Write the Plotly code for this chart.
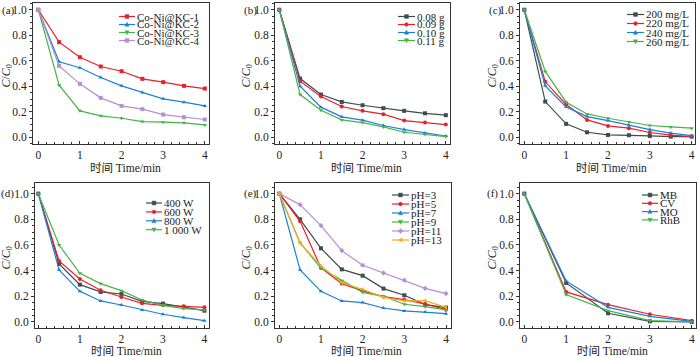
import plotly.graph_objects as go

W, H = 700, 357

# ---------------- data ----------------
t_half = [0, 0.5, 1, 1.5, 2, 2.5, 3, 3.5, 4]
t_full = [0, 1, 2, 3, 4]

a_names = ["Co-Ni@KC-1", "Co-Ni@KC-2", "Co-Ni@KC-3", "Co-Ni@KC-4"]
a_kc1 = [1.0, 0.746, 0.628, 0.555, 0.518, 0.458, 0.432, 0.403, 0.382]
a_kc2 = [1.0, 0.592, 0.545, 0.469, 0.403, 0.351, 0.301, 0.275, 0.246]
a_kc3 = [1.0, 0.408, 0.207, 0.168, 0.149, 0.123, 0.118, 0.113, 0.097]
a_kc4 = [1.0, 0.560, 0.419, 0.309, 0.246, 0.220, 0.178, 0.157, 0.139]

b_names = ["0.08 g", "0.09 g", "0.10 g", "0.11 g"]
b_008 = [1.0, 0.460, 0.335, 0.277, 0.251, 0.228, 0.207, 0.188, 0.173]
b_009 = [1.0, 0.440, 0.319, 0.241, 0.207, 0.181, 0.131, 0.115, 0.099]
b_010 = [1.0, 0.400, 0.236, 0.160, 0.134, 0.092, 0.060, 0.034, 0.010]
b_011 = [1.0, 0.335, 0.212, 0.136, 0.115, 0.081, 0.039, 0.024, 0.005]

c_names = ["200 mg/L", "220 mg/L", "240 mg/L", "260 mg/L"]
c_200 = [1.0, 0.280, 0.105, 0.039, 0.018, 0.016, 0.010, 0.005, 0.005]
c_220 = [1.0, 0.435, 0.257, 0.136, 0.089, 0.071, 0.037, 0.016, 0.005]
c_240 = [1.0, 0.403, 0.238, 0.162, 0.131, 0.094, 0.060, 0.033, 0.012]
c_260 = [1.0, 0.516, 0.275, 0.183, 0.149, 0.120, 0.092, 0.081, 0.071]

d_names = ["400 W", "600 W", "800 W", "1 000 W"]
d_400 = [1.0, 0.452, 0.291, 0.234, 0.218, 0.161, 0.143, 0.117, 0.088]
d_600 = [1.0, 0.475, 0.335, 0.247, 0.195, 0.145, 0.130, 0.122, 0.114]
d_800 = [1.0, 0.405, 0.239, 0.164, 0.132, 0.094, 0.060, 0.034, 0.010]
d_1000 = [1.0, 0.600, 0.379, 0.299, 0.244, 0.171, 0.130, 0.104, 0.094]

e_names = ["pH=3", "pH=5", "pH=7", "pH=9", "pH=11", "pH=13"]
e_ph3 = [1.0, 0.800, 0.574, 0.410, 0.361, 0.260, 0.208, 0.135, 0.112]
e_ph5 = [1.0, 0.784, 0.421, 0.299, 0.242, 0.197, 0.174, 0.140, 0.096]
e_ph7 = [1.0, 0.405, 0.239, 0.164, 0.151, 0.109, 0.086, 0.078, 0.065]
e_ph9 = [1.0, 0.618, 0.418, 0.322, 0.231, 0.200, 0.138, 0.119, 0.094]
e_ph11 = [1.0, 0.914, 0.751, 0.556, 0.442, 0.382, 0.325, 0.262, 0.221]
e_ph13 = [1.0, 0.613, 0.439, 0.306, 0.255, 0.192, 0.164, 0.166, 0.114]

f_names = ["MB", "CV", "MO", "RhB"]
f_mb = [1.0, 0.304, 0.068, 0.005, 0.0]
f_cv = [1.0, 0.234, 0.135, 0.060, 0.010]
f_mo = [1.0, 0.320, 0.114, 0.044, 0.005]
f_rhb = [1.0, 0.213, 0.088, 0.010, 0.0]

x_title = "时间 Time/min"
y_title = "<i>C</i>/<i>C</i><sub>0</sub>"

# ---------------- styles ----------------
GRAY, RED, BLUE, GREEN = "#3e4c4c", "#e8202a", "#1f7fd6", "#47b449"
PURPLE, ORANGE = "#b48fd2", "#f2ae1c"
SERIF = "Liberation Serif, Times New Roman, serif"
CJK = "Liberation Serif, Noto Sans CJK SC, serif"
AXC = "#333333"
MSIZE = 4

panels = [
    dict(label="(a)", t=t_half, names=a_names, ys=[a_kc1, a_kc2, a_kc3, a_kc4],
         colors=[RED, BLUE, GREEN, PURPLE],
         symbols=["square", "triangle-up", "triangle-down", "square"],
         box=(33, 209, 3, 144), xr=[-0.127, 4.1], yr=[-0.053, 1.053],
         lab=(8, 10), ytit=6, xtit=168, leg=(119, 135, 16.5, 8.0)),
    dict(label="(b)", t=t_half, names=b_names, ys=[b_008, b_009, b_010, b_011],
         colors=[GRAY, RED, BLUE, GREEN],
         symbols=["square", "circle", "triangle-up", "triangle-down"],
         box=(275, 450, 3, 144), xr=[-0.103, 4.1], yr=[-0.053, 1.053],
         lab=(250, 10), ytit=246, xtit=168, leg=(398, 415, 16.5, 8.0)),
    dict(label="(c)", t=t_half, names=c_names, ys=[c_200, c_220, c_240, c_260],
         colors=[GRAY, RED, BLUE, GREEN],
         symbols=["square", "circle", "triangle-up", "triangle-down"],
         box=(520, 695, 3, 144), xr=[-0.103, 4.08], yr=[-0.053, 1.053],
         lab=(495, 10), ytit=492, xtit=168, leg=(627, 644, 14.5, 9.0)),
    dict(label="(d)", t=t_half, names=d_names, ys=[d_400, d_600, d_800, d_1000],
         colors=[GRAY, RED, BLUE, GREEN],
         symbols=["square", "circle", "triangle-up", "triangle-down"],
         box=(35, 209, 183, 328), xr=[-0.08, 4.11], yr=[-0.047, 1.083],
         lab=(7, 194), ytit=6, xtit=351, leg=(146, 162, 203, 8.9)),
    dict(label="(e)", t=t_half, names=e_names, ys=[e_ph3, e_ph5, e_ph7, e_ph9, e_ph11, e_ph13],
         colors=[GRAY, RED, BLUE, GREEN, PURPLE, ORANGE],
         symbols=["square", "circle", "triangle-up", "triangle-down", "diamond", "triangle-left"],
         box=(275, 451, 183, 328), xr=[-0.103, 4.12], yr=[-0.047, 1.083],
         lab=(250, 194), ytit=246, xtit=351, leg=(392, 409, 195, 9.0)),
    dict(label="(f)", t=t_full, names=f_names, ys=[f_mb, f_cv, f_mo, f_rhb],
         colors=[GRAY, RED, BLUE, GREEN],
         symbols=["square", "circle", "triangle-up", "triangle-down"],
         box=(520, 696, 183, 328), xr=[-0.103, 4.1], yr=[-0.047, 1.083],
         lab=(492, 193), ytit=492, xtit=351, leg=(642, 658, 195, 8.3)),
]

fig = go.Figure()
layout = dict(width=W, height=H, margin=dict(l=0, r=0, t=0, b=0, pad=0, autoexpand=False),
              paper_bgcolor="white", plot_bgcolor="rgba(0,0,0,0)", showlegend=False,
              font=dict(family=SERIF, size=11, color="#222"))
annotations = []
shapes = []


def px(x):
    return x / W


def py(y):
    return 1 - y / H


def key_marker_path(sym, cx, cy, s=1.9):
    # small marker polygon for the legend key (pixel offsets -> paper coords)
    if sym == "square":
        pts = [(-s, -s), (s, -s), (s, s), (-s, s)]
    elif sym == "circle":
        pts = [(-s, 0), (-0.7 * s, -0.7 * s), (0, -s), (0.7 * s, -0.7 * s),
               (s, 0), (0.7 * s, 0.7 * s), (0, s), (-0.7 * s, 0.7 * s)]
    elif sym == "triangle-up":
        pts = [(-s * 1.1, s * 0.9), (s * 1.1, s * 0.9), (0, -s * 1.2)]
    elif sym == "triangle-down":
        pts = [(-s * 1.1, -s * 0.9), (s * 1.1, -s * 0.9), (0, s * 1.2)]
    elif sym == "diamond":
        pts = [(-s * 1.3, 0), (0, -s * 1.3), (s * 1.3, 0), (0, s * 1.3)]
    else:  # triangle-left
        pts = [(s * 0.9, -s * 1.1), (s * 0.9, s * 1.1), (-s * 1.2, 0)]
    return "M " + " L ".join(f"{px(cx + a):.5f},{py(cy + b):.5f}" for a, b in pts) + " Z"


for i, p in enumerate(panels):
    k = i + 1
    xa = "x" if k == 1 else f"x{k}"
    ya = "y" if k == 1 else f"y{k}"
    l, r, t, b = p["box"]
    layout["xaxis" if k == 1 else f"xaxis{k}"] = dict(
        domain=[px(l), px(r)], range=p["xr"], anchor=ya,
        showline=True, linecolor=AXC, linewidth=1, mirror=True,
        ticks="inside", ticklen=3, tickcolor=AXC, tickmode="linear", tick0=0, dtick=1,
        minor=dict(ticks="inside", ticklen=2, tickcolor=AXC),
        showgrid=False, zeroline=False, automargin=False,
        tickfont=dict(family=SERIF, size=11.5, color="#222"))
    layout["yaxis" if k == 1 else f"yaxis{k}"] = dict(
        domain=[py(b), py(t)], range=p["yr"], anchor=xa,
        showline=True, linecolor=AXC, linewidth=1, mirror=True,
        ticks="outside", ticklen=3, tickcolor=AXC, tickmode="linear", tick0=0, dtick=0.2,
        tickformat=".1f",
        minor=dict(ticks="outside", ticklen=2, tickcolor=AXC),
        showgrid=False, zeroline=False, automargin=False,
        tickfont=dict(family=SERIF, size=11.5, color="#222"))

    for name, yv, col, sym in zip(p["names"], p["ys"], p["colors"], p["symbols"]):
        fig.add_trace(go.Scatter(
            x=p["t"], y=yv, name=name, mode="lines+markers", xaxis=xa, yaxis=ya,
            line=dict(color=col, width=1.2),
            marker=dict(symbol=sym, size=MSIZE, color=col)))

    # legend (manual, tight spacing like the original)
    lx0, lx1, ly0, dy = p["leg"]
    for j, (name, col, sym) in enumerate(zip(p["names"], p["colors"], p["symbols"])):
        yy = ly0 + j * dy
        shapes.append(dict(type="line", xref="paper", yref="paper",
                           x0=px(lx0), x1=px(lx1), y0=py(yy), y1=py(yy),
                           line=dict(color=col, width=1.2)))
        shapes.append(dict(type="path", xref="paper", yref="paper",
                           path=key_marker_path(sym, (lx0 + lx1) / 2, yy),
                           fillcolor=col, line=dict(color=col, width=0.5)))
        annotations.append(dict(x=px(lx1 + 1), y=py(yy), xref="paper", yref="paper",
                                text=name, showarrow=False, xanchor="left",
                                yanchor="middle", borderpad=0,
                                font=dict(family=SERIF, size=11, color="#222")))

    # panel label
    annotations.append(dict(x=px(p["lab"][0]), y=py(p["lab"][1]), xref="paper", yref="paper",
                            text=p["label"], showarrow=False, xanchor="center",
                            yanchor="middle", font=dict(family=SERIF, size=11, color="#222")))
    # axis titles
    annotations.append(dict(x=px((l + r) / 2 + 4), y=py(p["xtit"]), xref="paper", yref="paper",
                            text=x_title, showarrow=False, xanchor="center",
                            yanchor="middle", font=dict(family=CJK, size=11.5, color="#222")))
    annotations.append(dict(x=px(p["ytit"]), y=py((t + b) / 2 + 2), xref="paper", yref="paper",
                            text=y_title, showarrow=False, textangle=-90,
                            xanchor="center", yanchor="middle",
                            font=dict(family=SERIF, size=12, color="#222")))

layout["annotations"] = annotations
layout["shapes"] = shapes
fig.update_layout(**layout)
fig.write_html("out.html",
               config={"displayModeBar": False, "staticPlot": True},
               post_script="document.body.style.margin='0px';"
                           "document.body.style.overflow='hidden';")
